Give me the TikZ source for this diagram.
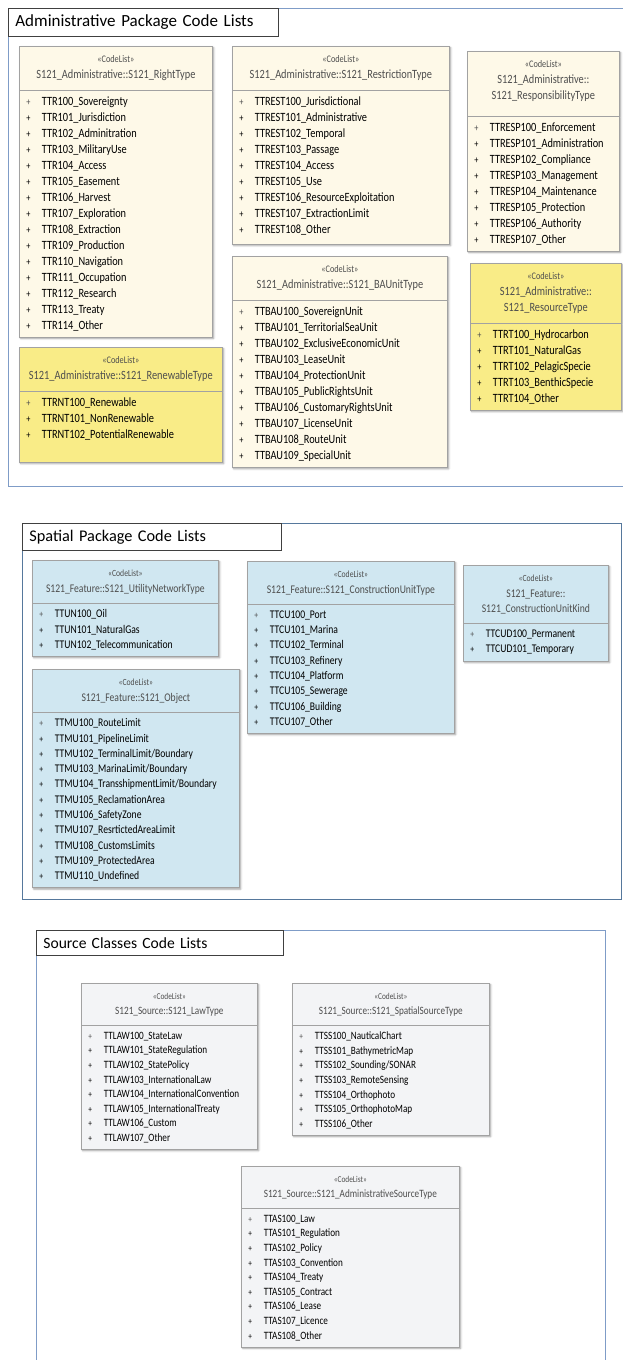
\documentclass[tikz,border=0pt]{standalone}
\usepackage{fontspec}
\setmainfont{Carlito}[FakeStretch=0.82]
\newfontfamily\titlefont{Carlito}
\usetikzlibrary{positioning, shapes.multipart, shadows.blur}
\definecolor{cText}{HTML}{4E4E4E}
\definecolor{cCream}{HTML}{FEF9E8}
\definecolor{cYellow}{HTML}{F9EC87}
\definecolor{cBlue}{HTML}{D0E7F1}
\definecolor{cGray}{HTML}{F3F4F6}
\definecolor{cBorder}{HTML}{A2A2A2}
\definecolor{cFrame}{HTML}{7F9CC7}
\definecolor{cFrameDark}{HTML}{56789C}

\setlength{\parindent}{0pt}
\newcommand{\stereo}{\scalebox{0.8}{«CodeList»}}
\newcommand{\clhead}[1]{\centering\rule{0pt}{10pt}\stereo\\#1\rule[-5pt]{0pt}{5pt}\par}
\newcommand{\attr}[1]{\noindent\makebox[18.5pt][l]{\hspace{3pt}\scalebox{0.8}{+}}#1\par}

\begin{document}
\begin{tikzpicture}[x=1pt, y=-1pt,
  every node/.style={text=cText},
  codelist/.style={rectangle split, rectangle split parts=2, anchor=north west,
                   draw=cBorder, line width=0.7pt, inner xsep=4pt, inner ysep=6pt, align=left,
                   blur shadow={shadow blur steps=4, shadow xshift=1.3pt,
                   shadow yshift=-1.3pt, shadow opacity=40}},
  admin/.style={codelist, font=\fontsize{12.6}{16}\selectfont},
  spatial/.style={codelist, font=\fontsize{11.75}{15.3}\selectfont},
  source/.style={codelist, font=\fontsize{11.2}{14.6}\selectfont},
  pkgframe/.style={draw=cFrame, line width=0.8pt, anchor=north west, inner sep=0pt},
  pkgtitle/.style={draw=black!75, line width=0.8pt, fill=white, text=black, anchor=north west,
                   inner xsep=7pt, inner ysep=0pt, align=left},
]
  \useasboundingbox (0,0) rectangle (622,1360);

  % Package frames
  \node[pkgframe, minimum width=630pt, minimum height=478pt] (adminPkg) at (8,8) {};
  \node[pkgframe, draw=cFrameDark, minimum width=599pt, minimum height=376pt] (spatialPkg) at (22,523) {};
  \node[pkgframe, minimum width=569pt, minimum height=450pt] (sourcePkg) at (36,930) {};

  % Package titles
  \node[pkgtitle, text width=256pt, minimum height=28pt, font=\titlefont\fontsize{17}{20}\selectfont]
    (adminTitle) at (8,8) {Administrative Package Code Lists};
  \node[pkgtitle, text width=245pt, minimum height=27pt, font=\titlefont\fontsize{16.3}{19}\selectfont]
    (spatialTitle) at (22,523) {Spatial Package Code Lists};
  \node[pkgtitle, text width=233pt, minimum height=25pt, font=\titlefont\fontsize{15.6}{18}\selectfont]
    (sourceTitle) at (36,930) {Source Classes Code Lists};

  % Administrative code lists
  \node[admin, fill=cCream, text width=185pt] (rightType) at (19,46) {
    \clhead{S121\_Administrative::S121\_RightType}
    \nodepart{two}
    \attr{TTR100\_Sovereignty}\attr{TTR101\_Jurisdiction}\attr{TTR102\_Adminitration}
    \attr{TTR103\_MilitaryUse}\attr{TTR104\_Access}\attr{TTR105\_Easement}
    \attr{TTR106\_Harvest}\attr{TTR107\_Exploration}\attr{TTR108\_Extraction}
    \attr{TTR109\_Production}\attr{TTR110\_Navigation}\attr{TTR111\_Occupation}
    \attr{TTR112\_Research}\attr{TTR113\_Treaty}\attr{TTR114\_Other}
  };
  \node[admin, fill=cYellow, text width=195pt] (renewableType) at (19,347) {
    \clhead{S121\_Administrative::S121\_RenewableType}
    \nodepart{two}
    \attr{TTRNT100\_Renewable}\attr{TTRNT101\_NonRenewable}\attr{TTRNT102\_PotentialRenewable}
    \kern16pt
  };
  \node[admin, fill=cCream, text width=209pt] (restrictionType) at (232,46) {
    \clhead{S121\_Administrative::S121\_RestrictionType}
    \nodepart{two}
    \attr{TTREST100\_Jurisdictional}\attr{TTREST101\_Administrative}\attr{TTREST102\_Temporal}
    \attr{TTREST103\_Passage}\attr{TTREST104\_Access}\attr{TTREST105\_Use}
    \attr{TTREST106\_ResourceExploitation}\attr{TTREST107\_ExtractionLimit}\attr{TTREST108\_Other}
    \kern3pt
  };
  \node[admin, fill=cCream, text width=144pt] (responsibilityType) at (467,51) {
    \clhead{S121\_Administrative::\\S121\_ResponsibilityType}\kern5pt
    \nodepart{two}
    \attr{TTRESP100\_Enforcement}\attr{TTRESP101\_Administration}\attr{TTRESP102\_Compliance}
    \attr{TTRESP103\_Management}\attr{TTRESP104\_Maintenance}\attr{TTRESP105\_Protection}
    \attr{TTRESP106\_Authority}\attr{TTRESP107\_Other}
  };
  \node[admin, fill=cCream, text width=207pt] (baUnitType) at (232,256) {
    \clhead{S121\_Administrative::S121\_BAUnitType}
    \nodepart{two}
    \attr{TTBAU100\_SovereignUnit}\attr{TTBAU101\_TerritorialSeaUnit}
    \attr{TTBAU102\_ExclusiveEconomicUnit}\attr{TTBAU103\_LeaseUnit}
    \attr{TTBAU104\_ProtectionUnit}\attr{TTBAU105\_PublicRightsUnit}
    \attr{TTBAU106\_CustomaryRightsUnit}\attr{TTBAU107\_LicenseUnit}
    \attr{TTBAU108\_RouteUnit}\attr{TTBAU109\_SpecialUnit}
  };
  \node[admin, fill=cYellow, text width=143pt] (resourceType) at (470,263) {
    \clhead{S121\_Administrative::\\S121\_ResourceType}
    \nodepart{two}
    \attr{TTRT100\_Hydrocarbon}\attr{TTRT101\_NaturalGas}\attr{TTRT102\_PelagicSpecie}
    \attr{TTRT103\_BenthicSpecie}\attr{TTRT104\_Other}
  };

  % Spatial code lists
  \node[spatial, fill=cBlue, text width=178pt] (utilityNetworkType) at (32,560) {
    \clhead{S121\_Feature::S121\_UtilityNetworkType}
    \nodepart{two}
    \attr{TTUN100\_Oil}\attr{TTUN101\_NaturalGas}\attr{TTUN102\_Telecommunication}
  };
  \node[spatial, fill=cBlue, text width=199pt] (featureObject) at (32,669) {
    \clhead{S121\_Feature::S121\_Object}
    \nodepart{two}
    \attr{TTMU100\_RouteLimit}\attr{TTMU101\_PipelineLimit}\attr{TTMU102\_TerminalLimit/Boundary}
    \attr{TTMU103\_MarinaLimit/Boundary}\attr{TTMU104\_TransshipmentLimit/Boundary}
    \attr{TTMU105\_ReclamationArea}\attr{TTMU106\_SafetyZone}\attr{TTMU107\_ResrtictedAreaLimit}
    \attr{TTMU108\_CustomsLimits}\attr{TTMU109\_ProtectedArea}\attr{TTMU110\_Undefined}
  };
  \node[spatial, fill=cBlue, text width=199pt] (constructionUnitType) at (247,561) {
    \clhead{S121\_Feature::S121\_ConstructionUnitType}
    \nodepart{two}
    \attr{TTCU100\_Port}\attr{TTCU101\_Marina}\attr{TTCU102\_Terminal}\attr{TTCU103\_Refinery}
    \attr{TTCU104\_Platform}\attr{TTCU105\_Sewerage}\attr{TTCU106\_Building}\attr{TTCU107\_Other}
  };
  \node[spatial, fill=cBlue, text width=137pt] (constructionUnitKind) at (463,565) {
    \clhead{S121\_Feature::\\S121\_ConstructionUnitKind}
    \nodepart{two}
    \attr{TTCUD100\_Permanent}\attr{TTCUD101\_Temporary}
  };

  % Source code lists
  \node[source, fill=cGray, text width=168pt] (lawType) at (81,983) {
    \clhead{S121\_Source::S121\_LawType}
    \nodepart{two}
    \attr{TTLAW100\_StateLaw}\attr{TTLAW101\_StateRegulation}\attr{TTLAW102\_StatePolicy}
    \attr{TTLAW103\_InternationalLaw}\attr{TTLAW104\_InternationalConvention}
    \attr{TTLAW105\_InternationalTreaty}\attr{TTLAW106\_Custom}\attr{TTLAW107\_Other}
  };
  \node[source, fill=cGray, text width=189pt] (spatialSourceType) at (292,983) {
    \clhead{S121\_Source::S121\_SpatialSourceType}
    \nodepart{two}
    \attr{TTSS100\_NauticalChart}\attr{TTSS101\_BathymetricMap}\attr{TTSS102\_Sounding/SONAR}
    \attr{TTSS103\_RemoteSensing}\attr{TTSS104\_Orthophoto}\attr{TTSS105\_OrthophotoMap}
    \attr{TTSS106\_Other}
  };
  \node[source, fill=cGray, text width=210pt] (adminSourceType) at (241,1166) {
    \clhead{S121\_Source::S121\_AdministrativeSourceType}
    \nodepart{two}
    \attr{TTAS100\_Law}\attr{TTAS101\_Regulation}\attr{TTAS102\_Policy}\attr{TTAS103\_Convention}
    \attr{TTAS104\_Treaty}\attr{TTAS105\_Contract}\attr{TTAS106\_Lease}\attr{TTAS107\_Licence}
    \attr{TTAS108\_Other}
  };
\end{tikzpicture}
\end{document}
